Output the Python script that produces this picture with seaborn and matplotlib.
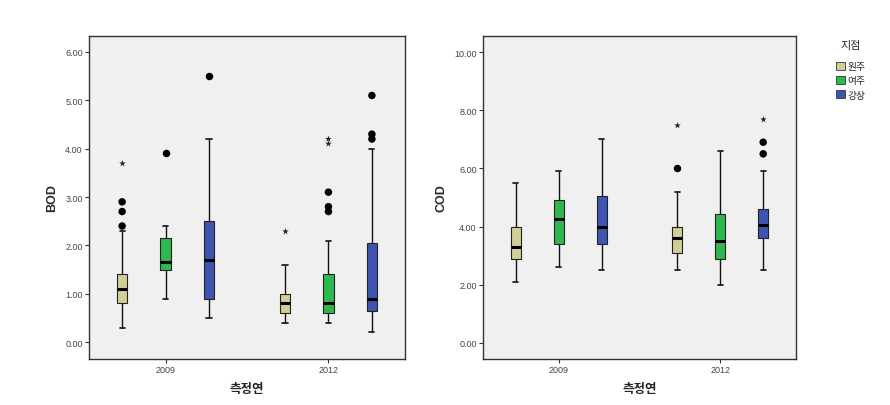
import numpy as np
import pandas as pd
import matplotlib
matplotlib.use("Agg")
import matplotlib.pyplot as plt
import seaborn as sns
from matplotlib.patches import Patch

# ---------------- data ----------------
years = ["2009", "2012"]
sites = ["원주", "여주", "강상"]
site_colors = ["#D3CE97", "#2EB84F", "#3D55B0"]

# box order: 2009 원주, 2009 여주, 2009 강상, 2012 원주, 2012 여주, 2012 강상
box_year = ["2009", "2009", "2009", "2012", "2012", "2012"]
box_site = ["원주", "여주", "강상", "원주", "여주", "강상"]

bod_low = [0.30, 0.90, 0.50, 0.40, 0.40, 0.20]
bod_q1 = [0.80, 1.50, 0.90, 0.60, 0.60, 0.65]
bod_med = [1.10, 1.65, 1.70, 0.80, 0.80, 0.90]
bod_q3 = [1.40, 2.15, 2.50, 1.00, 1.40, 2.05]
bod_high = [2.30, 2.40, 4.20, 1.60, 2.10, 4.00]

bod_circ_year = ["2009", "2009", "2009", "2009", "2009", "2012", "2012", "2012", "2012", "2012", "2012"]
bod_circ_site = ["원주", "원주", "원주", "여주", "강상", "여주", "여주", "여주", "강상", "강상", "강상"]
bod_circ_val = [2.40, 2.70, 2.90, 3.90, 5.50, 2.70, 2.80, 3.10, 4.20, 4.30, 5.10]

bod_star_year = ["2009", "2012", "2012", "2012"]
bod_star_site = ["원주", "원주", "여주", "여주"]
bod_star_val = [3.70, 2.30, 4.10, 4.20]

cod_low = [2.10, 2.60, 2.50, 2.50, 2.00, 2.50]
cod_q1 = [2.90, 3.40, 3.40, 3.10, 2.90, 3.60]
cod_med = [3.30, 4.25, 4.00, 3.60, 3.50, 4.05]
cod_q3 = [4.00, 4.90, 5.05, 4.00, 4.45, 4.60]
cod_high = [5.50, 5.90, 7.00, 5.20, 6.60, 5.90]

cod_circ_year = ["2012", "2012", "2012"]
cod_circ_site = ["원주", "강상", "강상"]
cod_circ_val = [6.00, 6.50, 6.90]

cod_star_year = ["2012", "2012"]
cod_star_site = ["원주", "강상"]
cod_star_val = [7.50, 7.70]

bod_ticks = [0, 1, 2, 3, 4, 5, 6]
cod_ticks = [0, 2, 4, 6, 8, 10]


def box_frame(lows, q1s, meds, q3s, highs):
    rows = []
    for yr, st, a, b, c, d, e in zip(box_year, box_site, lows, q1s, meds, q3s, highs):
        for v in (a, b, c, d, e):
            rows.append({"year": yr, "site": st, "value": v})
    return pd.DataFrame(rows)


# ---------------- style ----------------
sns.set_theme(style="ticks")
plt.rcParams["font.family"] = ["Liberation Sans", "Noto Sans CJK KR", "DejaVu Sans"]

fig = plt.figure(figsize=(8.9, 4.06), dpi=100)
ax1 = fig.add_axes([89 / 890, 1 - 360 / 406, (405 - 89) / 890, (360 - 37) / 406])
ax2 = fig.add_axes([483 / 890, 1 - 360 / 406, (796 - 483) / 890, (360 - 37) / 406])


def draw(ax, df, cy, cs, cv, sy, ss, sv, ticks, ylim, ylabel):
    ax.set_facecolor("#F0F0F0")
    sns.boxplot(data=df, x="year", y="value", hue="site", order=years, hue_order=sites,
                palette=site_colors, saturation=1, whis=(0, 100), width=0.8, gap=0.76,
                dodge=True, showfliers=False, linewidth=0.8, linecolor="#222222",
                medianprops=dict(color="black", linewidth=2.2),
                whiskerprops=dict(color="#111111", linewidth=1.0),
                capprops=dict(color="#111111", linewidth=1.2),
                legend=False, ax=ax)
    circ = pd.DataFrame({"year": cy, "site": cs, "value": cv})
    sns.stripplot(data=circ, x="year", y="value", hue="site", order=years, hue_order=sites,
                  palette=["black"] * 3, dodge=True, jitter=False, size=5.4,
                  marker="o", linewidth=0, legend=False, ax=ax)
    star = pd.DataFrame({"year": sy, "site": ss, "value": sv})
    sns.stripplot(data=star, x="year", y="value", hue="site", order=years, hue_order=sites,
                  palette=["#222222"] * 3, dodge=True, jitter=False, size=5.0,
                  marker="*", linewidth=0, legend=False, ax=ax)
    ax.set_xlim(-0.47, 1.47)
    ax.set_ylim(*ylim)
    ax.set_yticks(ticks)
    ax.set_yticklabels([f"{t:.2f}" for t in ticks])
    ax.tick_params(axis="both", direction="out", length=3, width=0.8, labelsize=6.5,
                   labelcolor="#444444", color="#333333", pad=1.5)
    for sp in ax.spines.values():
        sp.set_visible(True)
        sp.set_color("#333333")
        sp.set_linewidth(1.0)
    ax.set_ylabel(ylabel, fontsize=9, fontweight="bold", labelpad=5)
    ax.set_xlabel("측정연", fontsize=9, fontweight="bold", labelpad=6)


draw(ax1, box_frame(bod_low, bod_q1, bod_med, bod_q3, bod_high),
     bod_circ_year, bod_circ_site, bod_circ_val,
     bod_star_year, bod_star_site, bod_star_val,
     bod_ticks, (-0.35, 6.33), "BOD")
draw(ax2, box_frame(cod_low, cod_q1, cod_med, cod_q3, cod_high),
     cod_circ_year, cod_circ_site, cod_circ_val,
     cod_star_year, cod_star_site, cod_star_val,
     cod_ticks, (-0.55, 10.55), "COD")

handles = [Patch(facecolor=c, edgecolor="#333333", linewidth=0.6, label=s)
           for s, c in zip(sites, site_colors)]
leg = fig.legend(handles=handles, title="지점", loc="upper left",
                 bbox_to_anchor=(832 / 890, 1 - 37 / 406), frameon=False,
                 fontsize=7, title_fontsize=8, handlelength=0.9, handleheight=0.9,
                 handletextpad=0.3, labelspacing=0.45, borderaxespad=0)
leg._legend_box.sep = 8

fig.savefig("out.png", dpi=100)
